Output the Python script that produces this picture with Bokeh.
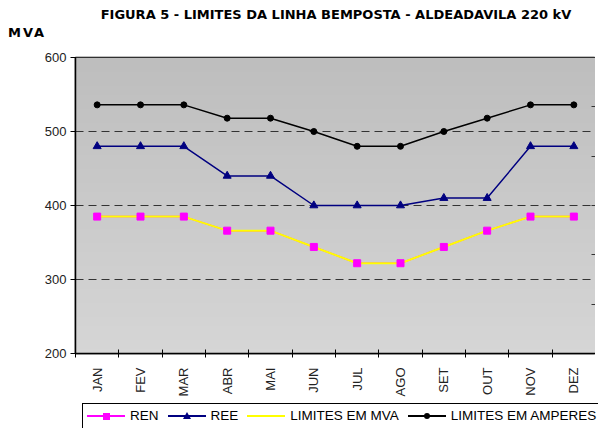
import math
import numpy as np
from bokeh.plotting import figure
from bokeh.layouts import column
from bokeh.models import Range1d, FixedTicker, LinearAxis, Div
from bokeh.embed import file_html
from bokeh.resources import INLINE

months = ["JAN", "FEV", "MAR", "ABR", "MAI", "JUN", "JUL", "AGO", "SET", "OUT", "NOV", "DEZ"]
ren = [385, 385, 385, 366, 366, 344, 322, 322, 344, 366, 385, 385]
ree = [480, 480, 480, 440, 440, 400, 400, 400, 410, 410, 480, 480]
lim_mva = [385, 385, 385, 366, 366, 344, 322, 322, 344, 366, 385, 385]
lim_amp = [536, 536, 536, 518, 518, 500, 480, 480, 500, 518, 536, 536]
y_ticks = [200, 300, 400, 500, 600]
grid_vals = [300, 400, 500]
title_text = "FIGURA 5 - LIMITES DA LINHA BEMPOSTA - ALDEADAVILA 220 kV"
y_title = "MVA"
series_names = ["REN", "REE", "LIMITES EM MVA", "LIMITES EM AMPERES"]

FONT = "Liberation Sans"
n = len(months)
xc = [i + 0.5 for i in range(n)]

styles = {
    "REN": dict(color="#ff00ff", width=1.5, marker="square", size=7),
    "REE": dict(color="#000080", width=1.5, marker="triangle", size=8),
    "LIMITES EM MVA": dict(color="#ffff00", width=2, marker=None, size=0),
    "LIMITES EM AMPERES": dict(color="black", width=1.5, marker="circle", size=6),
}

# ---------- header (title + unit) ----------
head_html = (
    '<div style="position:relative;width:598px;height:45px;margin:0;padding:0;'
    'color:black;font-weight:bold;font-size:13px;">'
    '<span style="position:absolute;left:336px;top:14.5px;transform:translate(-50%,-50%);'
    'white-space:nowrap;font-family:\'DejaVu Sans\';line-height:16px;">' + title_text + '</span>'
    '<span style="position:absolute;left:8px;top:33px;transform:translateY(-50%);'
    'white-space:nowrap;font-family:\'DejaVu Sans\';letter-spacing:2px;line-height:16px;">' + y_title + '</span>'
    '</div>'
)
head = Div(text=head_html, width=598, height=45, margin=(0, 0, 0, 0))

# ---------- main chart ----------
p = figure(frame_width=520, frame_height=296, x_range=Range1d(0, n), y_range=Range1d(200, 600),
           output_backend="svg", toolbar_location=None, title=None,
           min_border_left=75, min_border_right=0, min_border_top=12, min_border_bottom=50)

rows = 64
g = np.linspace(214, 190, rows).astype(np.uint8)
img = np.zeros((rows, 1), dtype=np.uint32)
view = img.view(dtype=np.uint8).reshape((rows, 1, 4))
view[:, 0, 0] = g
view[:, 0, 1] = g
view[:, 0, 2] = g
view[:, 0, 3] = 255
bg = p.image_rgba(image=[img], x=0, y=200, dw=n, dh=400)
bg.level = "image"

p.outline_line_color = "black"
p.outline_line_width = 1.5
p.border_fill_color = "white"

p.xgrid.visible = False
p.ygrid.ticker = FixedTicker(ticks=grid_vals)
p.ygrid.grid_line_color = "#333333"
p.ygrid.grid_line_dash = "8 5"
p.ygrid.grid_line_width = 1

p.yaxis.ticker = FixedTicker(ticks=y_ticks)
p.yaxis.axis_line_color = "black"
p.yaxis.axis_line_width = 1.5
p.yaxis.major_tick_in = 0
p.yaxis.major_tick_out = 5
p.yaxis.minor_tick_line_color = None
p.yaxis.major_label_text_font = FONT
p.yaxis.major_label_text_font_size = "13px"
p.yaxis.major_label_text_color = "#222222"
p.yaxis.major_label_standoff = 4

p.xaxis.ticker = FixedTicker(ticks=xc, minor_ticks=list(range(n + 1)))
p.xaxis.major_label_overrides = {x: m for x, m in zip(xc, months)}
p.xaxis.major_tick_line_color = None
p.xaxis.minor_tick_in = 4
p.xaxis.minor_tick_out = 4
p.xaxis.minor_tick_line_color = "black"
p.xaxis.axis_line_color = "black"
p.xaxis.axis_line_width = 1.5
p.xaxis.major_label_orientation = math.pi / 2
p.xaxis.major_label_text_font = FONT
p.xaxis.major_label_text_font_size = "13px"
p.xaxis.major_label_text_color = "#222222"
p.xaxis.major_label_standoff = 8

p.extra_y_ranges = {"r": Range1d(0, 6)}
r_ticks = [1, 2, 3, 4, 5]
ra = LinearAxis(y_range_name="r", ticker=FixedTicker(ticks=r_ticks))
ra.major_label_overrides = {t: "" for t in r_ticks}
ra.major_tick_in = 4
ra.major_tick_out = 0
ra.minor_tick_line_color = None
ra.axis_line_color = None
ra.major_label_standoff = 0
ra.major_tick_line_color = "#333333"
p.add_layout(ra, "right")

p.line(xc, ren, line_color=styles["REN"]["color"], line_width=styles["REN"]["width"])
p.line(xc, lim_mva, line_color=styles["LIMITES EM MVA"]["color"], line_width=styles["LIMITES EM MVA"]["width"])
p.scatter(xc, ren, marker="square", size=7, fill_color="#ff00ff", line_color="#ff00ff")
p.line(xc, ree, line_color="#000080", line_width=1.5)
p.scatter(xc, ree, marker="triangle", size=8, fill_color="#000080", line_color="#000080")
p.line(xc, lim_amp, line_color="black", line_width=1.5)
p.scatter(xc, lim_amp, marker="circle", size=6, fill_color="black", line_color="black")


# ---------- legend strip ----------
def key_html(st):
    c = st["color"]
    h = '<span style="display:inline-block;position:relative;width:38px;height:14px;vertical-align:top;">'
    h += '<span style="position:absolute;left:0;top:6px;width:38px;height:2px;background:%s;"></span>' % c
    m = st["marker"]
    if m == "square":
        h += '<span style="position:absolute;left:15.5px;top:3.5px;width:7px;height:7px;background:%s;"></span>' % c
    elif m == "triangle":
        h += ('<span style="position:absolute;left:15px;top:2.5px;width:0;height:0;'
              'border-left:4px solid transparent;border-right:4px solid transparent;'
              'border-bottom:7px solid %s;"></span>' % c)
    elif m == "circle":
        h += ('<span style="position:absolute;left:16px;top:4px;width:6px;height:6px;'
              'border-radius:50%%;background:%s;"></span>' % c)
    h += '</span>'
    return h


items_html = ""
for i, name in enumerate(series_names):
    gap = "0" if i == 0 else "9px"
    items_html += ('<span style="display:inline-block;margin-left:%s;white-space:nowrap;">' % gap
                   + key_html(styles[name])
                   + '<span style="display:inline-block;margin-left:5px;vertical-align:top;'
                     'line-height:14px;height:14px;">' + name + '</span></span>')

leg_html = (
    '<div style="position:relative;width:598px;height:25px;overflow:hidden;margin:0;padding:0;">'
    '<div style="position:absolute;left:82px;top:0;width:560px;height:40px;border:1px solid black;'
    'box-sizing:border-box;padding:5px 0 0 4px;white-space:nowrap;background:white;'
    "font-family:'Liberation Sans';font-size:13.5px;color:black;\">"
    + items_html +
    '</div></div>'
)
leg = Div(text=leg_html, width=598, height=25, margin=(0, 0, 0, 0))

layout = column(head, p, leg, spacing=0)
open("out.html", "w").write(file_html(layout, INLINE))
